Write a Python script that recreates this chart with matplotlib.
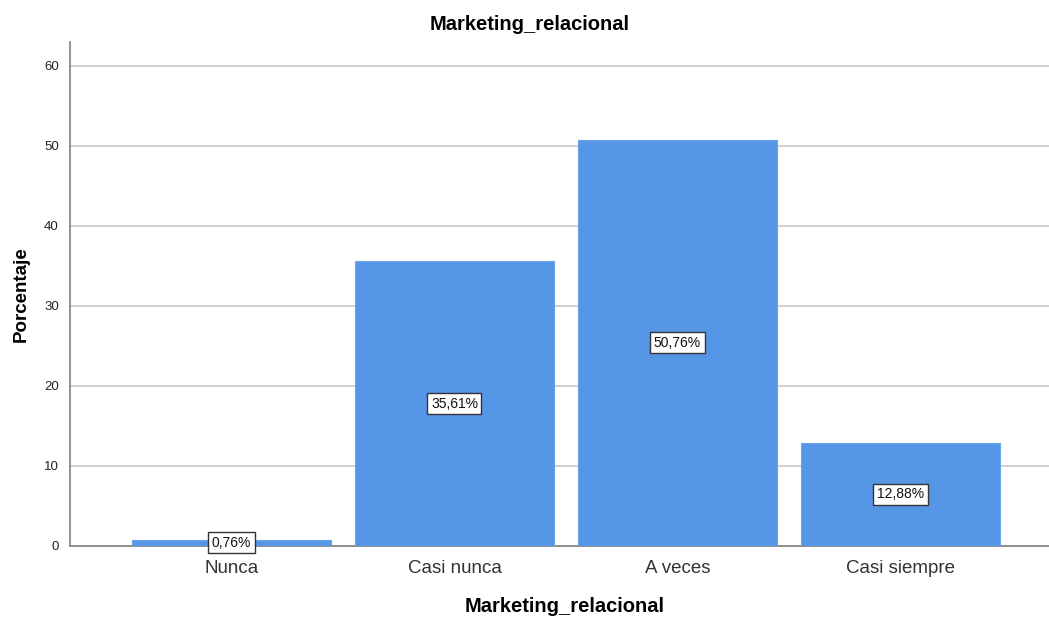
import matplotlib
matplotlib.use("Agg")
import matplotlib.pyplot as plt

plt.rcParams['font.family'] = ['Liberation Sans', 'DejaVu Sans']

categorias = ['Nunca', 'Casi nunca', 'A veces', 'Casi siempre']
porcentajes = [0.76, 35.61, 50.76, 12.88]
etiquetas = ['0,76%', '35,61%', '50,76%', '12,88%']
yticks = [0, 10, 20, 30, 40, 50, 60]

fig = plt.figure(figsize=(10.49, 6.18), dpi=100)
ax = fig.add_axes([70 / 1049, 1 - 546 / 618, 1 - 70 / 1049, (546 - 42) / 618])

x = list(range(len(categorias)))
ax.bar(x, porcentajes, width=0.892, color='#5596e6', edgecolor='#6aa4ea',
       linewidth=0.8, zorder=3)

# value labels in the middle of each bar
for xi, v, txt in zip(x, porcentajes, etiquetas):
    ax.text(xi, v / 2, txt, ha='center', va='center', fontsize=10, color='#111111',
            zorder=4,
            bbox=dict(boxstyle='square,pad=0.25', facecolor='white',
                      edgecolor='#333333', linewidth=1.0))

ax.set_xlim(-0.724, 3.666)
ax.set_ylim(0, 63)
ax.set_yticks(yticks)
ax.set_xticks(x)
ax.set_xticklabels(categorias, fontsize=13.5, color='#333333')
ax.tick_params(axis='both', length=0)
ax.tick_params(axis='y', labelsize=9.5, pad=8, colors='#222222')
ax.tick_params(axis='x', pad=10)

ax.grid(axis='y', color='#c8c8c8', linewidth=1.2, zorder=0)
for s in ['top', 'right']:
    ax.spines[s].set_visible(False)
ax.spines['left'].set_color('#888888')
ax.spines['bottom'].set_color('#888888')
ax.spines['left'].set_linewidth(1.3)
ax.spines['bottom'].set_linewidth(1.3)

ax.set_ylabel('Porcentaje', fontsize=13.5, fontweight='bold', labelpad=10)
fig.text(530 / 1049, 1 - 25 / 618, 'Marketing_relacional',
         ha='center', va='center', fontsize=14.5, fontweight='bold')
fig.text(565 / 1049, 1 - 607 / 618, 'Marketing_relacional',
         ha='center', va='center', fontsize=14.5, fontweight='bold')

fig.savefig('out.png', dpi=100)
